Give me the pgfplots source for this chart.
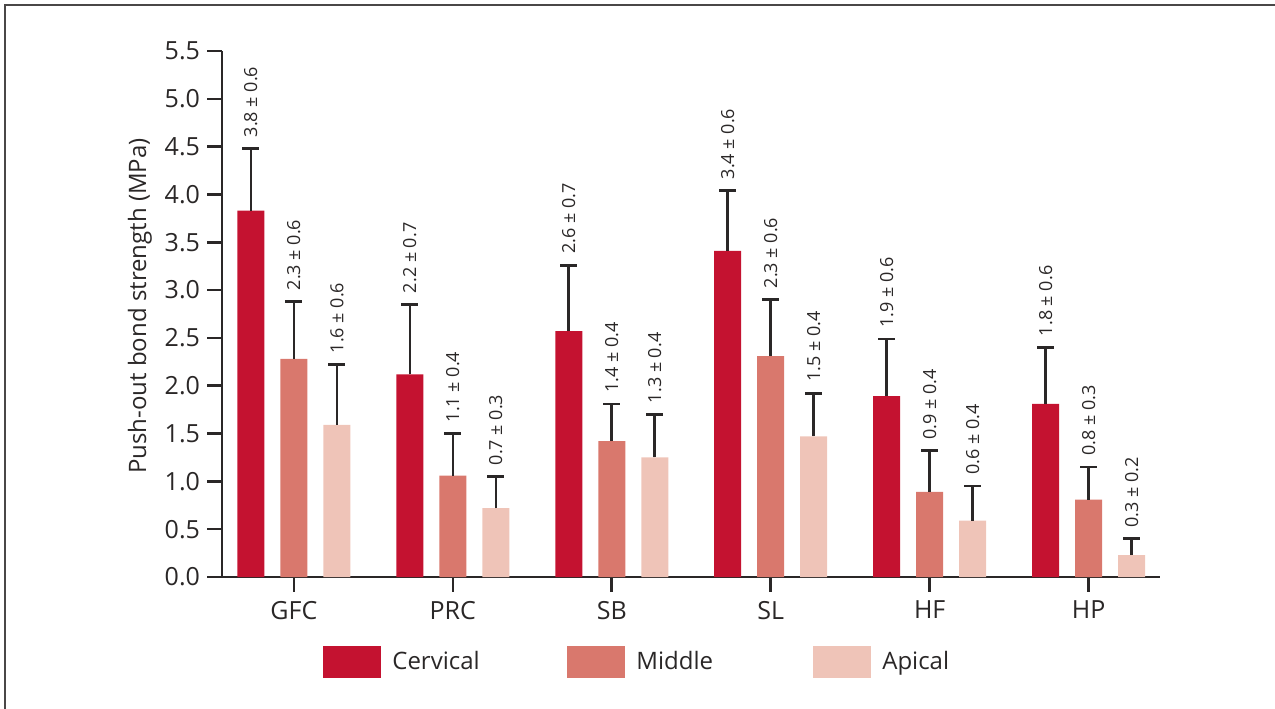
\documentclass[border=0pt]{standalone}
\usepackage{pgfplots}
\pgfplotsset{compat=1.18}
\usepackage{pgfplotstable}
\usepackage{fontspec}
\setmainfont{Open Sans}
\definecolor{cerv}{HTML}{C41230}
\definecolor{midc}{HTML}{D9786D}
\definecolor{apic}{HTML}{EFC4B8}
\definecolor{ink}{HTML}{2A2727}
\pgfplotstableread[col sep=comma]{
x,C,Cerr,M,Merr,A,Aerr,Clab,Mlab,Alab
0,3.83,0.65,2.28,0.60,1.59,0.63,{3.8 ± 0.6},{2.3 ± 0.6},{1.6 ± 0.6}
1,2.12,0.73,1.06,0.44,0.72,0.33,{2.2 ± 0.7},{1.1 ± 0.4},{0.7 ± 0.3}
2,2.57,0.69,1.42,0.39,1.25,0.45,{2.6 ± 0.7},{1.4 ± 0.4},{1.3 ± 0.4}
3,3.41,0.63,2.31,0.59,1.47,0.45,{3.4 ± 0.6},{2.3 ± 0.6},{1.5 ± 0.4}
4,1.89,0.60,0.89,0.43,0.59,0.36,{1.9 ± 0.6},{0.9 ± 0.4},{0.6 ± 0.4}
5,1.81,0.59,0.81,0.34,0.23,0.17,{1.8 ± 0.6},{0.8 ± 0.3},{0.3 ± 0.2}
}\data
\begin{document}
\begin{tikzpicture}
\useasboundingbox (0,0) rectangle (637.5bp,354.5bp);
\draw[line width=1.1bp, color=ink!85] (2.6bp,0) -- (2.6bp,352bp) -- (637.5bp,352bp);
\begin{axis}[
  at={(111bp,66bp)}, anchor=south west,
  scale only axis, width=469bp, height=263bp,
  ybar, bar width=13.5bp,
  xmin=-0.452, xmax=5.449, ymin=0, ymax=5.5,
  axis x line*=bottom, axis y line*=left,
  axis line style={line width=1.3bp, color=ink},
  every tick/.style={line width=1.3bp, color=ink},
  tick align=outside, major tick length=7.5bp,
  xtick={0,1,2,3,4,5},
  xticklabels={GFC,PRC,SB,SL,HF,HP},
  ytick={0,0.5,...,5.5},
  yticklabel style={/pgf/number format/fixed, /pgf/number format/fixed zerofill, /pgf/number format/precision=1},
  /pgf/number format/assume math mode=true,
  ticklabel style={font=\fontsize{12.5bp}{14bp}\selectfont, text=ink},
  xticklabel style={yshift=-1bp},
  every axis y label/.style={at={(rel axis cs:0,0.5)}, xshift=-41bp, yshift=4bp, rotate=90, anchor=center},
  ylabel={Push-out bond strength (MPa)},
  label style={font=\fontsize{12bp}{14bp}\selectfont, text=ink},
  clip=false,
  legend columns=3,
  legend style={at={(rel axis cs:0,0)}, anchor=west, xshift=50.5bp, yshift=-42.5bp, draw=none, fill=none, inner sep=0pt,
     font=\fontsize{12bp}{14bp}\selectfont, text=ink,
     /tikz/every odd column/.style={column sep=3.5bp}},
  legend image code/.code={\fill[#1] (0bp,-8bp) rectangle (29bp,8bp);},
  lab/.style={draw=none, fill=none, nodes near coords, point meta=explicit symbolic,
     nodes near coords style={rotate=90, anchor=west, inner xsep=5.5bp, font=\fontsize{9bp}{10bp}\selectfont, text=ink}},
]
\addplot[bar shift=-21.5bp, fill=cerv, draw=none,
  error bars/.cd, y dir=plus, y explicit, error bar style={line width=1.3bp, color=ink},
  error mark options={rotate=90, mark size=4.25bp, line width=1.3bp, color=ink}]
  table[x=x, y=C, y error=Cerr] {\data};
\addlegendentry{\makebox[85.5bp][l]{Cervical}}
\addplot[bar shift=0bp, fill=midc, draw=none,
  error bars/.cd, y dir=plus, y explicit, error bar style={line width=1.3bp, color=ink},
  error mark options={rotate=90, mark size=4.25bp, line width=1.3bp, color=ink}]
  table[x=x, y=M, y error=Merr] {\data};
\addlegendentry{\makebox[86.5bp][l]{Middle}}
\addplot[bar shift=21.5bp, fill=apic, draw=none,
  error bars/.cd, y dir=plus, y explicit, error bar style={line width=1.3bp, color=ink},
  error mark options={rotate=90, mark size=4.25bp, line width=1.3bp, color=ink}]
  table[x=x, y=A, y error=Aerr] {\data};
\addlegendentry{\makebox[60bp][l]{Apical}}
\pgfplotsset{every axis plot/.append style={forget plot}}
\addplot[lab, bar shift=-21.5bp] table[x=x, y expr=\thisrow{C}+\thisrow{Cerr}, meta=Clab] {\data};
\addplot[lab, bar shift=0bp] table[x=x, y expr=\thisrow{M}+\thisrow{Merr}, meta=Mlab] {\data};
\addplot[lab, bar shift=21.5bp] table[x=x, y expr=\thisrow{A}+\thisrow{Aerr}, meta=Alab] {\data};
\end{axis}
\end{tikzpicture}
\end{document}
